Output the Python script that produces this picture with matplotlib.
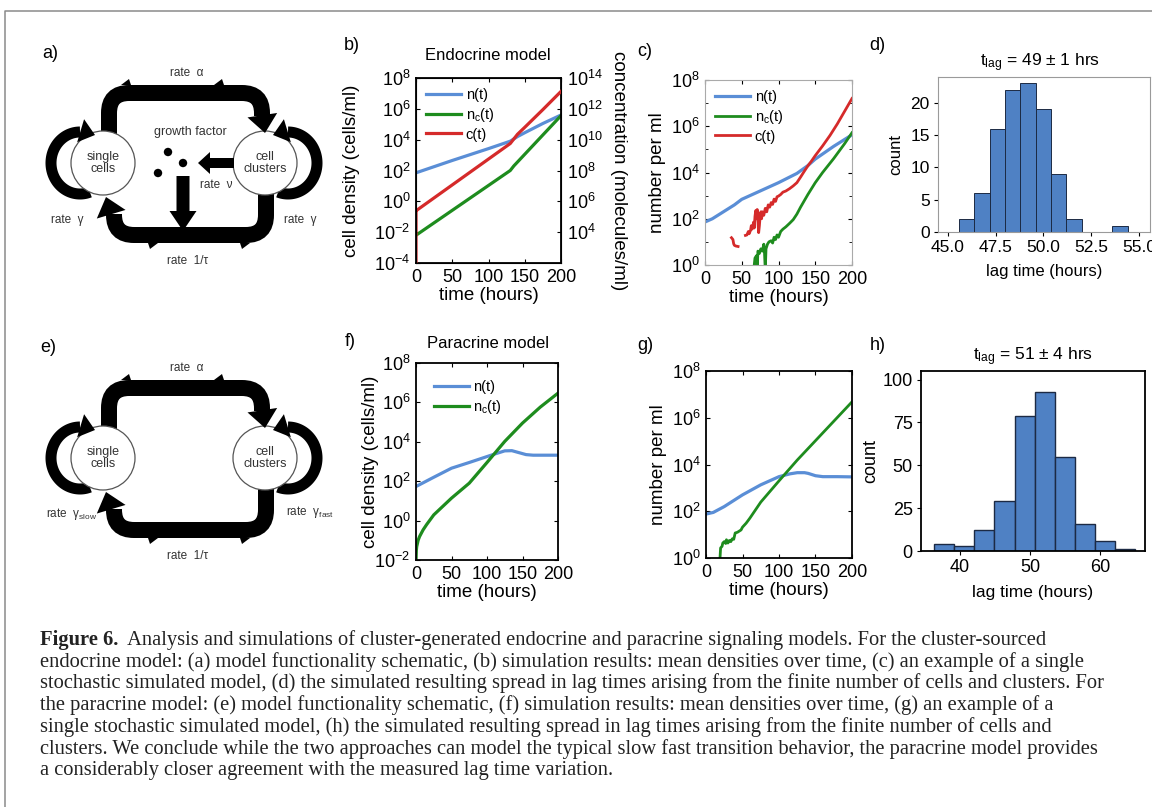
"""Figure 6: endocrine vs paracrine cluster signalling models (schematics, densities, lag-time histograms)."""

import numpy as np
import matplotlib
matplotlib.use("Agg")
import matplotlib.pyplot as plt
from matplotlib.patches import Circle, Polygon, PathPatch
from matplotlib.path import Path
from matplotlib.ticker import NullLocator, FixedLocator, NullFormatter

plt.rcParams["font.family"] = ["Liberation Sans", "DejaVu Sans"]
plt.rcParams["mathtext.fontset"] = "custom"
plt.rcParams["mathtext.rm"] = "Liberation Sans"
plt.rcParams["mathtext.it"] = "Liberation Sans:italic"
plt.rcParams["mathtext.bf"] = "Liberation Sans:bold"

W, H = 1152, 807
BLUE, GREEN, RED = "#5a8ed6", "#1e8c1e", "#d52a2a"
BAR, BAR_EDGE = "#4f81c4", "#1c2a44"

# ---- data, log10 values ----
# b) endocrine model, mean densities (cells/ml) and concentration (molecules/ml)
b_n_t = [0, 50, 100, 130, 140, 150, 175, 200]
b_n_log = [1.85, 2.65, 3.42, 3.9, 4.2, 4.45, 5.05, 5.6]
b_nc_t = [0, 130, 135, 140, 200]
b_nc_log = [-2.2, 2.0, 2.3, 2.55, 5.56]
b_c_t = [0, 0, 1, 130, 140, 150, 175, 200]
b_c_log = [1.5, 5.38, 5.42, 9.75, 10.35, 10.8, 11.95, 13.13]

# c) endocrine model, one stochastic run (number per ml)
c_n_t = [0, 10, 25, 40, 50, 75, 100, 125, 140, 150, 175, 200]
c_n_log = [1.86, 2.0, 2.3, 2.6, 2.84, 3.2, 3.56, 3.96, 4.3, 4.58, 5.13, 5.63]
c_nc_t = [66, 68, 70, 71, 72, 74, 76, 78, 80, 81, 82, 83, 85, 87, 90, 92, 94,
          96, 98, 100, 103, 106, 110, 115, 120, 125, 130, 140, 150, 160, 175,
          190, 200]
c_nc_log = [-0.3, 0.3, 0.4, -0.2, 0.6, 0.5, 0.7, 0.6, 0.9, 0.5, -0.2, 0.7, 0.9,
            1.0, 1.05, 0.95, 1.2, 1.1, 1.3, 1.2, 1.45, 1.55, 1.65, 1.8, 1.96,
            2.2, 2.5, 3.05, 3.56, 4.0, 4.6, 5.25, 5.72]
c_c_t = [36, 38, 39, 40, 42, 45, np.nan, 55, 57, 59, 60, 62, 63, 64, 65, 66,
         67, 68, 69, 70, 71, 72, 73, 74, 75, 76, 77, 78, 80, 82, 84, 86, 88,
         90, 92, 94, 96, 98, 100, 103, 106, 110, 115, 120, 125, 130, 135, 140,
         145, 150, 160, 170, 180, 190, 200]
c_c_log = [1.18, 1.1, 0.92, 0.85, 0.82, 0.8, np.nan, 1.28, 1.3, 1.45, 1.35,
           1.5, 1.7, 1.55, 1.62, 1.85, 1.6, 2.1, 2.35, 2.0, 2.4, 1.9, 1.4,
           1.7, 2.1, 2.3, 2.0, 2.3, 2.15, 2.45, 2.3, 2.6, 2.5, 2.7, 2.62, 2.85,
           2.75, 2.95, 2.98, 3.05, 3.15, 3.2, 3.3, 3.42, 3.56, 3.8, 4.05, 4.29,
           4.5, 4.73, 5.15, 5.6, 6.1, 6.65, 7.2]

# d) endocrine lag-time histogram
d_edges = [45.58, 46.38, 47.18, 47.99, 48.79, 49.59, 50.39, 51.20, 52.00,
           52.80, 53.60, 54.41]
d_counts = [2, 6, 16, 22, 23, 19, 9, 2, 0, 0, 1]

# f) paracrine model, mean densities
f_n_t = [0, 25, 50, 75, 100, 110, 125, 135, 145, 155, 165, 200]
f_n_log = [1.73, 2.2, 2.66, 2.95, 3.25, 3.37, 3.54, 3.55, 3.45, 3.35, 3.32, 3.32]
f_nc_t = [0, 0.5, 1, 3, 5, 10, 15, 25, 50, 75, 100, 125, 150, 175, 200]
f_nc_log = [-2.05, -1.5, -1.32, -1.0, -0.81, -0.47, -0.2, 0.29, 1.14, 1.9,
            2.95, 4.02, 4.95, 5.76, 6.47]

# g) paracrine model, one stochastic run
g_n_t = [0, 10, 25, 50, 75, 100, 115, 125, 135, 140, 150, 160, 180, 200]
g_n_log = [1.88, 1.95, 2.2, 2.7, 3.13, 3.48, 3.6, 3.65, 3.65, 3.62, 3.52, 3.48,
           3.48, 3.47]
g_nc_t = [19, 20, 22, 23, 25, 27, 28, 30, 32, 34, 36, 38, 40, 43, 45, 48, 50,
          55, 60, 75, 100, 125, 150, 175, 200]
g_nc_log = [-0.1, 0.43, 0.5, 0.64, 0.7, 0.62, 0.78, 0.64, 0.75, 0.7, 0.82, 0.8,
            1.07, 1.1, 1.14, 1.2, 1.32, 1.49, 1.7, 2.39, 3.3, 4.19, 5.02, 5.85,
            6.68]

# h) paracrine lag-time histogram
h_edges = [36.29, 39.17, 42.04, 44.92, 47.79, 50.67, 53.55, 56.42, 59.30,
           62.17, 65.05]
h_counts = [4, 3, 12, 29, 79, 93, 55, 16, 6, 1]

CAPTION = [
    "endocrine model: (a) model functionality schematic, (b) simulation results: mean densities over time, (c) an example of a single",
    "stochastic simulated model, (d) the simulated resulting spread in lag times arising from the finite number of cells and clusters. For",
    "the paracrine model: (e) model functionality schematic, (f) simulation results: mean densities over time, (g) an example of a",
    "single stochastic simulated model, (h) the simulated resulting spread in lag times arising from the finite number of cells and",
    "clusters. We conclude while the two approaches can model the typical slow fast transition behavior, the paracrine model provides",
    "a considerably closer agreement with the measured lag time variation.",
]
CAPTION_FIRST = ("  Analysis and simulations of cluster-generated endocrine and paracrine "
                 "signaling models. For the cluster-sourced")


def px_axes(fig, x0, y0, x1, y1):
    """Axes from pixel box (top-left origin)."""
    return fig.add_axes([x0 / W, 1 - y1 / H, (x1 - x0) / W, (y1 - y0) / H])


def logpow(vals):
    return 10.0 ** np.asarray(vals, dtype=float)


def matlab_axes(ax, ylo, yhi, spine="k", lw=1.3):
    ax.set_yscale("log")
    ax.set_ylim(10.0 ** ylo, 10.0 ** yhi)
    ax.set_xlim(0, 200)
    ax.set_yticks(10.0 ** np.arange(ylo, yhi + 1, 2))
    ax.yaxis.set_minor_locator(NullLocator())
    ax.set_xticks([0, 50, 100, 150, 200])
    ax.tick_params(direction="in", top=True, right=True, length=3,
                   labelsize=13, pad=4)
    for s in ax.spines.values():
        s.set_color(spine)
        s.set_linewidth(lw)


def hist_axes(ax, spine, lw, size):
    for s in ax.spines.values():
        s.set_color(spine)
        s.set_linewidth(lw)
    ax.tick_params(direction="out", length=3, labelsize=size, pad=3)


# ---- schematic helpers (pixel coordinates on the background axes) ----
def band(ax, pts, width_px, r=20):
    verts, codes = [pts[0]], [Path.MOVETO]
    for i in range(1, len(pts) - 1):
        p0, p1, p2 = (np.array(p, float) for p in pts[i - 1:i + 2])
        d0 = (p1 - p0) / np.linalg.norm(p1 - p0)
        d1 = (p2 - p1) / np.linalg.norm(p2 - p1)
        verts += [p1 - d0 * r, p1, p1 + d1 * r]
        codes += [Path.LINETO, Path.CURVE3, Path.CURVE3]
    verts.append(pts[-1])
    codes.append(Path.LINETO)
    ax.add_patch(PathPatch(Path(verts, codes), fill=False, ec="k",
                           lw=width_px * 0.72, capstyle="butt", zorder=2))


def head(ax, tip, d, length=17, half=14):
    tip = np.array(tip, float)
    d = np.array(d, float)
    d /= np.linalg.norm(d)
    n = np.array([-d[1], d[0]])
    base = tip - d * length
    ax.add_patch(Polygon([tip, base + n * half, base - n * half], closed=True,
                         fc="k", ec="none", zorder=4))


def barb(ax, x, edge, sx, sy):
    """Small notch sticking out of a band edge."""
    ax.add_patch(Polygon([(x - 10 * sx, edge), (x, edge), (x - 2 * sx, edge - 6 * sy)],
                         closed=True, fc="k", ec="none", zorder=2))


def loop(ax, cx, cy, side):
    th = np.radians(np.linspace(70, 270, 80))
    x = cx + side * 29 * np.cos(th)
    y = cy + 31 * np.sin(th)
    ax.plot(x, y, color="k", lw=11 * 0.72, solid_capstyle="butt", zorder=2)
    head(ax, (cx + side * 15, cy - 28), (side, 0.3), length=15, half=12)


def schematic(ax, oy, endocrine):
    tc = "#333333"
    band(ax, [(109, 134 + oy), (109, 93 + oy), (262, 93 + oy), (262, 116 + oy)], 16)
    head(ax, (265, 133 + oy), (0.15, 1), 18, 15)
    band(ax, [(266, 192 + oy), (266, 235 + oy), (114, 235 + oy), (114, 214 + oy)], 16)
    head(ax, (106, 197 + oy), (-0.3, -1), 18, 15)
    barb(ax, 131, 85 + oy, 1, 1)
    barb(ax, 224, 85 + oy, 1, 1)
    barb(ax, 148, 243 + oy, -1, -1)
    barb(ax, 240, 243 + oy, -1, -1)
    loop(ax, 80, 163 + oy, 1)
    loop(ax, 288, 163 + oy, -1)
    for cx in (103, 265):
        ax.add_patch(Circle((cx, 163 + oy), 32, fc="white", ec="#555555",
                            lw=0.9, zorder=3))
    ax.text(103, 163 + oy, "single\ncells", ha="center", va="center",
            fontsize=9, color=tc, linespacing=1.1, zorder=5)
    ax.text(265, 163 + oy, "cell\nclusters", ha="center", va="center",
            fontsize=9, color=tc, linespacing=1.1, zorder=5)
    ax.text(187, 73 + oy, "rate  α", ha="center", va="center", fontsize=8.5, color=tc)
    ax.text(188, 261 + oy, "rate  1/τ", ha="center", va="center", fontsize=8.5, color=tc)
    if endocrine:
        ax.text(190, 132 + oy, "growth factor", ha="center", va="center",
                fontsize=9, color=tc)
        for x, y in [(168, 152), (183, 163), (158, 173)]:
            ax.add_patch(Circle((x, y + oy), 4.2, fc="k", ec="none", zorder=4))
        ax.arrow(234, 163 + oy, -36, 0, width=10, head_width=22, head_length=12,
                 length_includes_head=True, fc="k", ec="none", zorder=4)
        ax.arrow(183, 176 + oy, 0, 55, width=13, head_width=27, head_length=20,
                 length_includes_head=True, fc="k", ec="none", zorder=4)
        ax.text(216, 185 + oy, "rate  ν", ha="center", va="center", fontsize=8.5, color=tc)
        ax.text(67, 220 + oy, "rate  γ", ha="center", va="center", fontsize=8.5, color=tc)
        ax.text(300, 220 + oy, "rate  γ", ha="center", va="center", fontsize=8.5, color=tc)
    else:
        ax.text(72, 219 + oy, r"rate  γ$_{\mathregular{slow}}$", ha="center",
                va="center", fontsize=8.5, color=tc)
        ax.text(310, 217 + oy, r"rate  γ$_{\mathregular{fast}}$", ha="center",
                va="center", fontsize=8.5, color=tc)


fig = plt.figure(figsize=(W / 100, H / 100), dpi=100)
bg = fig.add_axes([0, 0, 1, 1])
bg.set_xlim(0, W)
bg.set_ylim(H, 0)
bg.axis("off")
bg.set_zorder(-1)

# frame around the figure
bg.plot([5, 5, W + 5], [H + 5, 11, 11], color="#8a8a8a", lw=1.1)

schematic(bg, 0, True)
schematic(bg, 295, False)

for txt, x, y in [("a)", 50, 53), ("b)", 352, 45), ("c)", 645, 52), ("d)", 877, 45),
                  ("e)", 48, 347), ("f)", 350, 342), ("g)", 645, 346), ("h)", 878, 345)]:
    bg.text(x, y, txt, ha="center", va="center", fontsize=13)
bg.text(488, 55, "Endocrine model", ha="center", va="center", fontsize=12)
bg.text(488, 343, "Paracrine model", ha="center", va="center", fontsize=12)
bg.text(1040, 63, r"$\mathregular{t_{lag}}$ = 49 ± 1 hrs", ha="center",
        va="center", fontsize=12.5)
bg.text(1033, 357, r"$\mathregular{t_{lag}}$ = 51 ± 4 hrs", ha="center",
        va="center", fontsize=12.5)

# ---- b) endocrine mean densities ----
ax = px_axes(fig, 416, 78, 561, 263)
matlab_axes(ax, -4, 8)
ax.tick_params(right=False)
ax.plot(b_n_t, logpow(b_n_log), color=BLUE, lw=2.3, label="n(t)")
ax.plot(b_nc_t, logpow(b_nc_log), color=GREEN, lw=2.3, label=r"n$_\mathregular{c}$(t)")
ax.set_xlabel("time (hours)", fontsize=13.5, labelpad=1)
ax.set_ylabel("cell density (cells/ml)", fontsize=13.5, labelpad=10)
ax2 = ax.twinx()
ax2.set_yscale("log")
ax2.set_ylim(1e2, 1e14)
ax2.set_yticks(10.0 ** np.arange(4, 15, 2))
ax2.yaxis.set_minor_locator(NullLocator())
ax2.tick_params(direction="in", length=3, labelsize=13, pad=4)
ax2.plot(b_c_t, logpow(b_c_log), color=RED, lw=2.3, label="c(t)")
ax2.set_ylabel("concentration (molecules/ml)", fontsize=13.5, rotation=270,
               va="bottom", labelpad=5.5)
h1, l1 = ax.get_legend_handles_labels()
h2, l2 = ax2.get_legend_handles_labels()
ax2.legend(h1 + h2, l1 + l2, loc="upper left", frameon=False, fontsize=10.5,
           handlelength=2.4, handletextpad=0.3, labelspacing=0.25,
           borderaxespad=0.3)

# ---- c) endocrine stochastic run ----
ax = px_axes(fig, 705, 80, 852, 265)
matlab_axes(ax, 0, 8, spine="#aaaaaa", lw=0.8)
ax.yaxis.set_minor_locator(FixedLocator(10.0 ** np.arange(1, 8, 2)))
ax.yaxis.set_minor_formatter(NullFormatter())
ax.tick_params(which="minor", direction="in", left=True, right=True, length=2)
ax.plot(c_n_t, logpow(c_n_log), color=BLUE, lw=2.3, label="n(t)")
ax.plot(c_nc_t, logpow(c_nc_log), color=GREEN, lw=2.0, label=r"n$_\mathregular{c}$(t)")
ax.plot(c_c_t, logpow(c_c_log), color=RED, lw=2.0, label="c(t)")
ax.set_xlabel("time (hours)", fontsize=13.5, labelpad=1)
ax.set_ylabel("number per ml", fontsize=13.5, labelpad=3)
ax.legend(loc="upper left", frameon=False, fontsize=10.5, handlelength=2.4,
          handletextpad=0.3, labelspacing=0.25, borderaxespad=0.3)

# ---- d) endocrine lag times ----
ax = px_axes(fig, 938, 77, 1150, 232)
ax.bar(d_edges[:-1], d_counts, width=np.diff(d_edges), align="edge",
       color=BAR, edgecolor=BAR_EDGE, linewidth=0.7)
ax.set_xlim(44.48, 55.58)
ax.set_ylim(0, 24)
ax.set_xticks([45.0, 47.5, 50.0, 52.5, 55.0])
ax.set_xticklabels(["45.0", "47.5", "50.0", "52.5", "55.0"])
ax.set_yticks([0, 5, 10, 15, 20])
hist_axes(ax, "#9a9a9a", 0.8, 12.5)
ax.set_xlabel("lag time (hours)", fontsize=12, labelpad=6)
ax.set_ylabel("count", fontsize=12, labelpad=5)

# ---- f) paracrine mean densities ----
ax = px_axes(fig, 416, 363, 558, 560)
matlab_axes(ax, -2, 8)
ax.plot(f_n_t, logpow(f_n_log), color=BLUE, lw=2.3, label="n(t)")
ax.plot(f_nc_t, logpow(f_nc_log), color=GREEN, lw=2.3, label=r"n$_\mathregular{c}$(t)")
ax.set_xlabel("time (hours)", fontsize=13.5, labelpad=1)
ax.set_ylabel("cell density (cells/ml)", fontsize=13.5, labelpad=-3.5)
ax.legend(loc="upper left", frameon=False, fontsize=10.5, handlelength=2.4,
          handletextpad=0.3, labelspacing=0.25, borderaxespad=0.8)

# ---- g) paracrine stochastic run ----
ax = px_axes(fig, 706, 371, 852, 558)
matlab_axes(ax, 0, 8)
ax.plot(g_n_t, logpow(g_n_log), color=BLUE, lw=2.3)
ax.plot(g_nc_t, logpow(g_nc_log), color=GREEN, lw=2.0)
ax.set_xlabel("time (hours)", fontsize=13.5, labelpad=1)
ax.set_ylabel("number per ml", fontsize=13.5, labelpad=3)

# ---- h) paracrine lag times ----
ax = px_axes(fig, 921, 371, 1145, 551)
ax.bar(h_edges[:-1], h_counts, width=np.diff(h_edges), align="edge",
       color=BAR, edgecolor=BAR_EDGE, linewidth=1.0)
ax.set_xlim(34.43, 66.43)
ax.set_ylim(0, 105)
ax.set_xticks([40, 50, 60])
ax.set_yticks([0, 25, 50, 75, 100])
hist_axes(ax, "k", 1.3, 13)
ax.set_xlabel("lag time (hours)", fontsize=12.5, labelpad=6)
ax.set_ylabel("count", fontsize=13, labelpad=2)

# ---- caption ----
cap_font = dict(family="Liberation Serif", fontsize=14.8, color="#222222")
first = bg.text(40, 650, "Figure 6.", fontweight="bold", va="bottom", **cap_font)
bg.annotate(CAPTION_FIRST, xy=(1, 0), xycoords=first, va="bottom", **cap_font)
for i, line in enumerate(CAPTION):
    bg.text(40, 671.5 + 21.8 * i, line, va="bottom", **cap_font)

fig.savefig("out.png", dpi=100)
